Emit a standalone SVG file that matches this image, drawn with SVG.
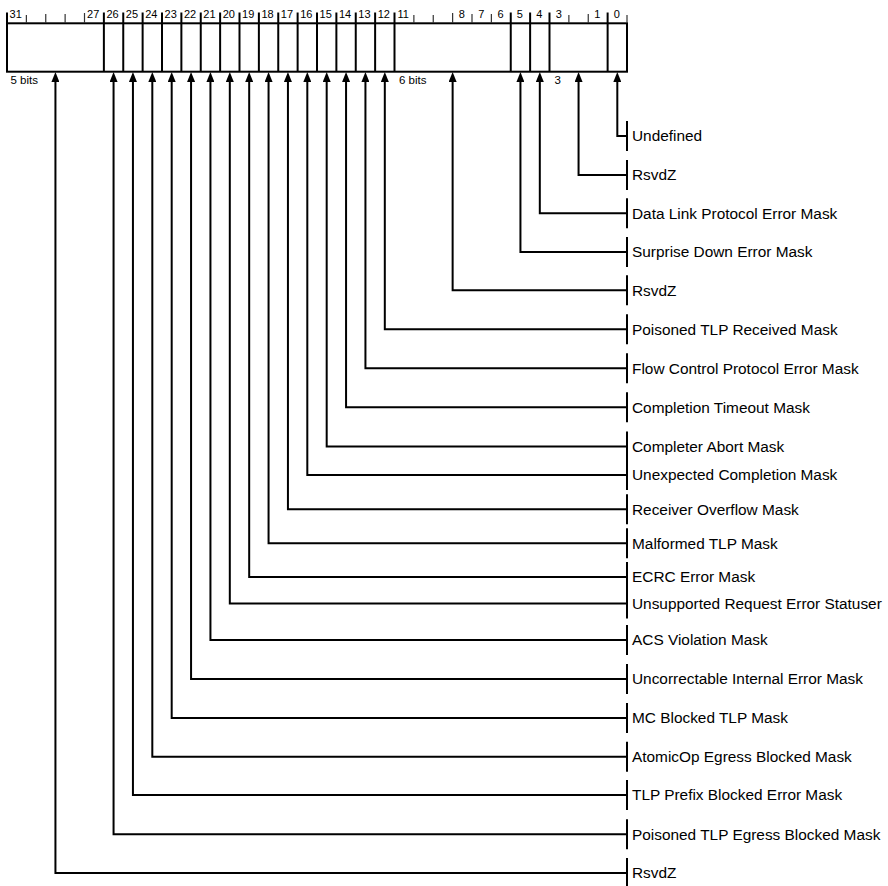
<svg xmlns="http://www.w3.org/2000/svg" width="888" height="886" viewBox="0 0 888 886">
<style>
.bg{fill:#fff}
.box{fill:none;stroke:#000;stroke-width:2}
.div{stroke:#000;stroke-width:2}
.tick{stroke:#333;stroke-width:1.2}
.bit{font-family:"Liberation Sans",Arial,sans-serif;font-size:11px;fill:#000;text-anchor:middle}
.small{font-family:"Liberation Sans",Arial,sans-serif;font-size:11.5px;fill:#000}
.lbl{font-family:"Liberation Sans",Arial,sans-serif;font-size:15.4px;fill:#000}
.bar{stroke:#000;stroke-width:2}
.con{fill:none;stroke:#000;stroke-width:2;marker-start:url(#ah)}
</style>
<defs>
<marker id="ah" markerUnits="userSpaceOnUse" viewBox="0 0 10 8" markerWidth="10" markerHeight="8" refX="0" refY="4" orient="auto-start-reverse">
<path d="M0,0 L10,4 L0,8 z" fill="#000"/>
</marker>
</defs>
<rect class="bg" x="0" y="0" width="888" height="886"/>

<g id="register">
<rect class="box" x="7" y="23.3" width="620" height="48.4"/>
<g id="dividers">
<line class="div" x1="7" y1="12.5" x2="7" y2="23.3"/>
<line class="div" x1="103.875" y1="12.5" x2="103.875" y2="71.7"/>
<line class="div" x1="123.25" y1="12.5" x2="123.25" y2="71.7"/>
<line class="div" x1="142.625" y1="12.5" x2="142.625" y2="71.7"/>
<line class="div" x1="162" y1="12.5" x2="162" y2="71.7"/>
<line class="div" x1="181.375" y1="12.5" x2="181.375" y2="71.7"/>
<line class="div" x1="200.75" y1="12.5" x2="200.75" y2="71.7"/>
<line class="div" x1="220.125" y1="12.5" x2="220.125" y2="71.7"/>
<line class="div" x1="239.5" y1="12.5" x2="239.5" y2="71.7"/>
<line class="div" x1="258.875" y1="12.5" x2="258.875" y2="71.7"/>
<line class="div" x1="278.25" y1="12.5" x2="278.25" y2="71.7"/>
<line class="div" x1="297.625" y1="12.5" x2="297.625" y2="71.7"/>
<line class="div" x1="317" y1="12.5" x2="317" y2="71.7"/>
<line class="div" x1="336.375" y1="12.5" x2="336.375" y2="71.7"/>
<line class="div" x1="355.75" y1="12.5" x2="355.75" y2="71.7"/>
<line class="div" x1="375.125" y1="12.5" x2="375.125" y2="71.7"/>
<line class="div" x1="394.5" y1="12.5" x2="394.5" y2="71.7"/>
<line class="div" x1="510.75" y1="12.5" x2="510.75" y2="71.7"/>
<line class="div" x1="530.125" y1="12.5" x2="530.125" y2="71.7"/>
<line class="div" x1="549.5" y1="12.5" x2="549.5" y2="71.7"/>
<line class="div" x1="607.625" y1="12.5" x2="607.625" y2="71.7"/>
</g>
<g id="ticks">
<line class="tick" x1="26.375" y1="15" x2="26.375" y2="23"/>
<line class="tick" x1="45.75" y1="14" x2="45.75" y2="23"/>
<line class="tick" x1="65.125" y1="14" x2="65.125" y2="23"/>
<line class="tick" x1="84.5" y1="13" x2="84.5" y2="23"/>
<line class="tick" x1="413.875" y1="15" x2="413.875" y2="23"/>
<line class="tick" x1="433.25" y1="15" x2="433.25" y2="23"/>
<line class="tick" x1="452.625" y1="13" x2="452.625" y2="23"/>
<line class="tick" x1="472" y1="14" x2="472" y2="23"/>
<line class="tick" x1="491.375" y1="14" x2="491.375" y2="23"/>
<line class="tick" x1="568.875" y1="15" x2="568.875" y2="23"/>
<line class="tick" x1="588.25" y1="14" x2="588.25" y2="23"/>
<line class="tick" x1="627" y1="15" x2="627" y2="23"/>
</g>
<g id="bit-numbers">
<text class="bit" x="15.7" y="18">31</text>
<text class="bit" x="93.2" y="18">27</text>
<text class="bit" x="112.6" y="18">26</text>
<text class="bit" x="131.9" y="18">25</text>
<text class="bit" x="151.3" y="18">24</text>
<text class="bit" x="170.7" y="18">23</text>
<text class="bit" x="190.1" y="18">22</text>
<text class="bit" x="209.4" y="18">21</text>
<text class="bit" x="228.8" y="18">20</text>
<text class="bit" x="248.2" y="18">19</text>
<text class="bit" x="267.6" y="18">18</text>
<text class="bit" x="286.9" y="18">17</text>
<text class="bit" x="306.3" y="18">16</text>
<text class="bit" x="325.7" y="18">15</text>
<text class="bit" x="345.1" y="18">14</text>
<text class="bit" x="364.4" y="18">13</text>
<text class="bit" x="383.8" y="18">12</text>
<text class="bit" x="403.2" y="18">11</text>
<text class="bit" x="461.8" y="18">8</text>
<text class="bit" x="481.2" y="18">7</text>
<text class="bit" x="500.6" y="18">6</text>
<text class="bit" x="519.9" y="18">5</text>
<text class="bit" x="539.3" y="18">4</text>
<text class="bit" x="558.7" y="18">3</text>
<text class="bit" x="597.4" y="18">1</text>
<text class="bit" x="616.8" y="18">0</text>
</g>
<text class="small" x="10.5" y="84">5 bits</text>
<text class="small" x="399" y="84">6 bits</text>
<text class="small" x="554.5" y="84">3</text>
</g>

<g id="connectors">
<path class="con" d="M617.31,82 V136 H627"/>
<path class="con" d="M578.56,82 V175 H627"/>
<path class="con" d="M539.81,82 V213.3 H627"/>
<path class="con" d="M520.44,82 V252 H627"/>
<path class="con" d="M452.63,82 V290.3 H627"/>
<path class="con" d="M384.81,82 V329.3 H627"/>
<path class="con" d="M365.44,82 V368.3 H627"/>
<path class="con" d="M346.06,82 V407.3 H627"/>
<path class="con" d="M326.69,82 V446.5 H627"/>
<path class="con" d="M307.31,82 V475 H627"/>
<path class="con" d="M287.94,82 V509.3 H627"/>
<path class="con" d="M268.56,82 V543.3 H627"/>
<path class="con" d="M249.19,82 V577 H627"/>
<path class="con" d="M229.81,82 V603.5 H627"/>
<path class="con" d="M210.44,82 V640 H627"/>
<path class="con" d="M191.06,82 V679 H627"/>
<path class="con" d="M171.69,82 V718 H627"/>
<path class="con" d="M152.31,82 V756.7 H627"/>
<path class="con" d="M132.94,82 V795 H627"/>
<path class="con" d="M113.56,82 V834.3 H627"/>
<path class="con" d="M55.44,82 V873 H627"/>
</g>

<g id="f-undefined"><line class="bar" x1="627" y1="121" x2="627" y2="151"/><text class="lbl" x="632" y="141.3">Undefined</text></g>
<g id="f-rsvdz-3-1"><line class="bar" x1="627" y1="160" x2="627" y2="190"/><text class="lbl" x="632" y="180.3">RsvdZ</text></g>
<g id="f-dlpe"><line class="bar" x1="627" y1="198.3" x2="627" y2="228.3"/><text class="lbl" x="632" y="218.6">Data Link Protocol Error Mask</text></g>
<g id="f-surprise"><line class="bar" x1="627" y1="237" x2="627" y2="267"/><text class="lbl" x="632" y="257.3">Surprise Down Error Mask</text></g>
<g id="f-rsvdz-11-6"><line class="bar" x1="627" y1="275.3" x2="627" y2="305.3"/><text class="lbl" x="632" y="295.6">RsvdZ</text></g>
<g id="f-poisoned-rx"><line class="bar" x1="627" y1="314.3" x2="627" y2="344.3"/><text class="lbl" x="632" y="334.6">Poisoned TLP Received Mask</text></g>
<g id="f-fcpe"><line class="bar" x1="627" y1="353.3" x2="627" y2="383.3"/><text class="lbl" x="632" y="373.6">Flow Control Protocol Error Mask</text></g>
<g id="f-cto"><line class="bar" x1="627" y1="392.3" x2="627" y2="422.3"/><text class="lbl" x="632" y="412.6">Completion Timeout Mask</text></g>
<g id="f-ca"><line class="bar" x1="627" y1="431.5" x2="627" y2="461.5"/><text class="lbl" x="632" y="451.8">Completer Abort Mask</text></g>
<g id="f-uc"><line class="bar" x1="627" y1="460" x2="627" y2="490"/><text class="lbl" x="632" y="480.3">Unexpected Completion Mask</text></g>
<g id="f-ro"><line class="bar" x1="627" y1="494.3" x2="627" y2="524.3"/><text class="lbl" x="632" y="514.6">Receiver Overflow Mask</text></g>
<g id="f-mtlp"><line class="bar" x1="627" y1="528.3" x2="627" y2="558.3"/><text class="lbl" x="632" y="548.6">Malformed TLP Mask</text></g>
<g id="f-ecrc"><line class="bar" x1="627" y1="562" x2="627" y2="592"/><text class="lbl" x="632" y="582.3">ECRC Error Mask</text></g>
<g id="f-ur"><line class="bar" x1="627" y1="588.5" x2="627" y2="618.5"/><text class="lbl" x="632" y="608.8">Unsupported Request Error Statuser</text></g>
<g id="f-acs"><line class="bar" x1="627" y1="625" x2="627" y2="655"/><text class="lbl" x="632" y="645.3">ACS Violation Mask</text></g>
<g id="f-uie"><line class="bar" x1="627" y1="664" x2="627" y2="694"/><text class="lbl" x="632" y="684.3">Uncorrectable Internal Error Mask</text></g>
<g id="f-mc"><line class="bar" x1="627" y1="703" x2="627" y2="733"/><text class="lbl" x="632" y="723.3">MC Blocked TLP Mask</text></g>
<g id="f-atomic"><line class="bar" x1="627" y1="741.7" x2="627" y2="771.7"/><text class="lbl" x="632" y="762">AtomicOp Egress Blocked Mask</text></g>
<g id="f-prefix"><line class="bar" x1="627" y1="780" x2="627" y2="810"/><text class="lbl" x="632" y="800.3">TLP Prefix Blocked Error Mask</text></g>
<g id="f-poisoned-egress"><line class="bar" x1="627" y1="819.3" x2="627" y2="849.3"/><text class="lbl" x="632" y="839.6">Poisoned TLP Egress Blocked Mask</text></g>
<g id="f-rsvdz-31-27"><line class="bar" x1="627" y1="858" x2="627" y2="888"/><text class="lbl" x="632" y="878.3">RsvdZ</text></g>
</svg>
